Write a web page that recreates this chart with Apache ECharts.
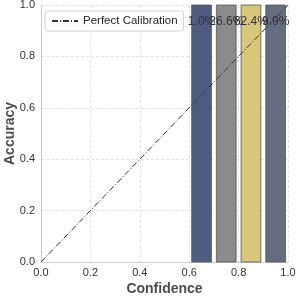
<!DOCTYPE html>
<html><head><meta charset="utf-8">
<script src="https://cdn.jsdelivr.net/npm/echarts@6/dist/echarts.min.js"></script>
<style>html,body{margin:0;padding:0;background:#fff}#c{width:297px;height:297px}</style>
</head><body><div id="c"></div>
<script>
var binCenters = [0.65, 0.75, 0.85, 0.95];
var accuracies = [1.0, 1.0, 1.0, 1.0];
var binLabels = ['1.0%', '26.6%', '62.4%', '9.9%'];
var barColors = ['#4f5b80', '#8b8b8b', '#d6c779', '#676d80'];
var diagonal = [[0, 0], [1, 1]];
var tickFont = 'Liberation Sans';

var chart = echarts.init(document.getElementById('c'), null, {renderer: 'canvas'});
var barData = binCenters.map(function (c, i) { return [c, accuracies[i], i]; });
chart.setOption({
  animation: false,
  backgroundColor: '#fff',
  grid: {left: 41, right: 9, top: 5, bottom: 35, show: false, containLabel: false, outerBoundsMode: 'none'},
  legend: {
    data: ['Perfect Calibration'],
    left: 45, top: 11,
    itemWidth: 26, itemHeight: 10, itemGap: 6,
    padding: [4, 6, 4, 6],
    borderColor: '#d0d0d0', borderWidth: 1, borderRadius: 3,
    backgroundColor: '#fff',
    itemStyle: {opacity: 0},
    textStyle: {fontFamily: tickFont, fontSize: 11.5, color: '#262626'}
  },
  xAxis: {
    type: 'value', min: 0, max: 1, interval: 0.2,
    name: 'Confidence', nameLocation: 'middle', nameGap: 20, nameMoveOverlap: false,
    nameTextStyle: {fontFamily: tickFont, fontSize: 14, fontWeight: 'bold', color: '#4d4d4d'},
    axisLine: {show: true, lineStyle: {color: '#cccccc', width: 1}},
    axisTick: {show: false},
    axisLabel: {fontFamily: tickFont, fontSize: 11, color: '#333', margin: 5, formatter: function (v) { return v.toFixed(1); }},
    splitLine: {show: true, lineStyle: {color: '#dddddd', type: [3, 2], width: 0.8}}
  },
  yAxis: {
    type: 'value', min: 0, max: 1, interval: 0.2,
    name: 'Accuracy', nameLocation: 'middle', nameGap: 24, nameMoveOverlap: false,
    nameTextStyle: {fontFamily: tickFont, fontSize: 14, fontWeight: 'bold', color: '#4d4d4d'},
    axisLine: {show: true, lineStyle: {color: '#cccccc', width: 1}},
    axisTick: {show: false},
    axisLabel: {fontFamily: tickFont, fontSize: 11, color: '#333', margin: 6, formatter: function (v) { return v.toFixed(1); }},
    splitLine: {show: true, lineStyle: {color: '#dddddd', type: [3, 2], width: 0.8}}
  },
  series: [
    {
      type: 'custom',
      z: 2,
      data: barData,
      renderItem: function (params, api) {
        var c = api.value(0), a = api.value(1), i = api.value(2);
        var p0 = api.coord([c - 0.04, a]);
        var p1 = api.coord([c + 0.04, 0]);
        var top = api.coord([c, a]);
        return {
          type: 'group',
          children: [
            {type: 'rect', shape: {x: p0[0], y: p0[1], width: p1[0] - p0[0], height: p1[1] - p0[1]},
             style: {fill: barColors[i], stroke: '#555555', lineWidth: 0.8}},
            {type: 'text', z2: 10, style: {text: binLabels[i], x: top[0], y: top[1] + 17, align: 'center', verticalAlign: 'middle',
              font: '12px "Liberation Sans"', fill: '#333'}}
          ]
        };
      }
    },
    {
      name: 'Perfect Calibration',
      type: 'line',
      z: 5,
      data: diagonal,
      symbol: 'none',
      lineStyle: {color: '#333333', width: 1, type: [6, 2, 1, 2]},
      itemStyle: {color: '#333333'}
    }
  ]
});
</script></body></html>
